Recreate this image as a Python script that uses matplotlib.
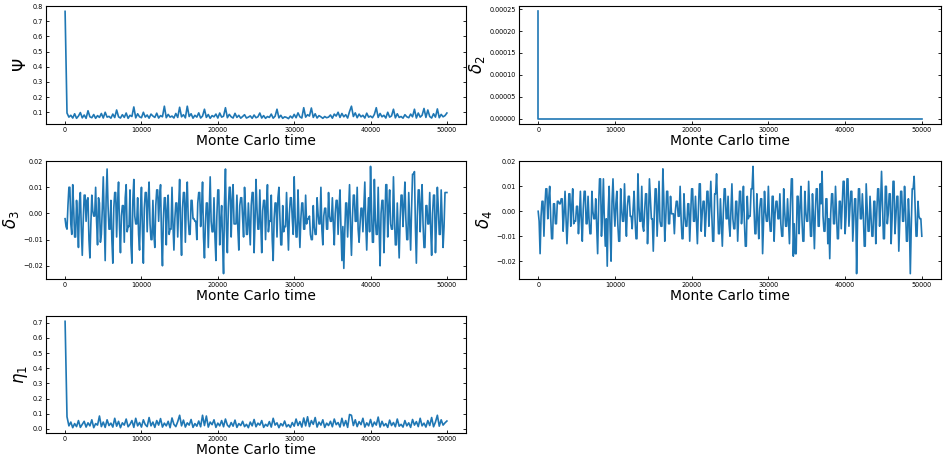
import numpy as np
import matplotlib.pyplot as plt

# Monte Carlo time grids: coarse for psi/eta1/delta2, fine for delta3/delta4
mc_time = np.arange(0, 50001, 250)
mc_time_fine = np.arange(0, 50001, 125)

# parameter traces, values in units of 1e-3 (delta2 in 1e-5)
psi_e3 = [
    765, 95, 68, 80, 62, 90, 60, 75, 98, 63, 82, 60, 110, 70, 64, 85, 60, 78, 66, 92,
    62, 100, 68, 73, 61, 88, 65, 115, 70, 62, 84, 66, 95, 60, 80, 72, 135, 63, 90, 70,
    64, 100, 68, 82, 61, 88, 75, 66, 94, 62, 78, 70, 140, 64, 86, 68, 75, 62, 92, 66,
    133, 70, 84, 63, 140, 72, 90, 61, 80, 68, 96, 62, 75, 120, 66, 85, 60, 78, 70, 88,
    62, 95, 68, 74, 130, 64, 86, 70, 62, 93, 66, 80, 61, 72, 84, 62, 68, 76, 60, 82,
    64, 70, 95, 62, 78, 60, 72, 66, 88, 61, 74, 120, 63, 80, 60, 70, 66, 58, 75, 62,
    86, 64, 96, 70, 62, 130, 68, 84, 75, 128, 66, 90, 62, 78, 70, 60, 72, 64, 68, 82,
    61, 88, 75, 100, 66, 92, 70, 84, 62, 105, 140, 72, 96, 64, 88, 70, 80, 62, 94, 68,
    75, 64, 86, 130, 66, 92, 70, 80, 62, 100, 68, 76, 120, 63, 90, 66, 72, 61, 84, 70,
    64, 88, 70, 120, 62, 95, 68, 80, 125, 66, 115, 72, 62, 90, 68, 122, 64, 86, 70, 78,
    95,
]

delta2_e5 = [24.5] + [0.0] * 200

delta3_e3 = [
    -2, -5, -6, 3, 10, 10, -4, -8, 11, 2, -9, -9, 5, -2, -13, 4, 8, -6, -16, -3,
    7, 7, -3, 5, 6, -10, -17, -4, 7, 1, -1, -1, 10, -3, -12, 6, 4, -11, -8, 2,
    14, -2, -18, 6, 17, 3, -6, -6, 5, -10, -19, 2, 8, 8, -9, 4, 12, -5, -15, -1,
    3, 3, -11, 6, 11, -7, -5, -5, 9, -12, -19, 5, 13, -1, -4, -4, 6, -8, -14, 1,
    10, -6, -19, 2, 8, 8, -7, 5, 12, -4, -10, -10, 5, -8, -13, 3, 9, 9, -3, 6,
    11, -9, -20, -2, 6, 6, -12, 1, 7, -8, -6, -6, 10, -4, -14, -2, 4, 4, -9, 3,
    13, -5, -16, 2, 8, 8, -11, 4, 12, -2, -8, -8, 5, 5, -2, -2, -3, -3, -10, 4,
    8, 8, -5, 2, 12, -9, -17, -4, 4, 4, -13, 0, 14, -3, -7, -7, 6, -9, -18, -1,
    9, 9, -12, -3, 3, -11, -23, 4, 17, -6, -15, 2, 10, 10, -9, 5, 11, -4, -4, -4,
    7, -6, -14, 3, 6, 6, -2, -9, 10, 2, -8, -8, 4, -4, -12, 3, 8, 8, -15, -3,
    13, 2, -6, -6, 9, -4, -15, 1, 5, 5, -10, 3, 11, -7, -3, -3, 7, -10, -18, -2,
    4, 4, -9, 6, 10, -1, -12, -12, 3, -7, -5, -5, 8, -3, -14, 0, 6, 6, -2, -8,
    14, -1, -9, -9, 9, -3, -13, -2, 4, 4, -6, -6, 7, -4, -2, -2, -1, -8, -10, -10,
    3, -5, -8, -8, 6, 0, -4, -4, 10, -6, -12, -1, 2, 2, -6, -6, 8, -1, -3, -3,
    6, -4, -12, 0, 5, 5, -8, 2, 9, -6, -18, -5, -21, -7, 4, 4, -9, 1, 11, -5,
    -16, -2, 7, 7, -3, -3, 10, -6, -11, -4, 2, 2, -7, 3, 12, -4, -14, -1, 6, -7,
    18, 2, -11, -11, 13, -2, -8, -8, 10, -6, -20, 0, 5, 5, -15, -3, 11, 11, -9, 2,
    9, -4, -6, -6, 14, -1, -12, -12, 4, -7, -17, -2, 7, 7, -5, 3, 12, -2, -10, -10,
    8, -3, -14, 2, 15, 15, 16, -5, -19, -1, 9, 9, -7, 3, 11, -4, -13, -13, 3, 3,
    -4, -4, 8, -6, -16, 0, 7, 7, -15, -4, 10, 2, -8, -8, 9, -2, -13, -5, 8, 8,
    8,
]

delta4_e3 = [
    0, -4, -17, -2, 4, 4, -10, 2, 9, 9, -3, 5, 10, -2, -11, -11, 3, 3, -5, -5,
    4, 4, 3, 3, 5, 5, -8, -1, 8, -3, -13, -4, 7, 7, -6, 2, 9, -5, -4, -4,
    2, 2, -9, -2, 8, -4, -12, 1, 8, 8, -5, -5, 6, -3, -9, -9, 8, 0, -3, -3,
    5, -6, -17, 2, 13, 13, -10, -1, 13, -4, -14, -3, -22, 0, 10, -7, -20, 4, 13, 1,
    -6, 3, 8, -5, -12, -12, 9, 1, -4, -4, 11, -2, -10, 2, 6, 6, -2, -2, -7, 1,
    8, -3, -11, -11, 15, 2, -4, -4, 10, -6, -8, 0, 7, 7, -13, -3, 13, 5, -3, -3,
    -16, -2, 9, 9, -10, 1, 12, -4, -6, -6, 17, 5, -12, -3, 8, 8, -5, -5, 6, -1,
    -1, -1, -9, 0, 4, 4, -2, -2, 10, -3, -11, -11, 7, -2, -6, -6, 3, 3, -12, -2,
    9, 9, -4, -4, 6, -3, -13, 0, 11, 11, -8, -1, 4, 4, -10, -2, 8, 8, -6, 2,
    12, -1, -12, -12, 7, 7, 15, 3, -9, -9, 5, -4, -14, -1, 9, 9, -3, -3, 6, -5,
    -10, 1, 11, -3, -7, -7, 4, 4, -12, -2, 8, 8, -5, 1, 10, -4, -14, -14, 6, -3,
    -2, -2, 9, 9, 18, 2, -9, -9, 7, -3, -11, 1, 5, 5, -17, -4, 8, 0, -4, -4,
    10, -2, -8, -8, 6, 6, -12, -1, 4, 4, -3, -3, 7, -5, -10, -10, 9, 0, -6, -6,
    5, -4, -13, 2, 13, 13, -18, -5, -17, -17, 6, 6, -9, 2, 10, -3, -12, -12, 8, 0,
    -4, -4, 12, 1, -10, -10, 7, -2, -15, 0, 9, 9, -6, -6, 11, 3, 16, -2, -8, -8,
    5, 5, -13, -3, -19, -1, 7, 7, -5, -5, 10, 0, -11, -11, 4, 4, -7, 2, 12, 12,
    -9, -2, 13, 13, -6, 1, 8, 8, -12, -3, 5, 5, -25, -4, 9, 9, -3, -3, 7, -1,
    -14, -14, 11, 2, -8, -8, 6, -2, -10, -10, 4, 4, -13, -1, 9, 9, -6, 3, 16, 2,
    -11, -11, 10, 10, -5, -1, 7, 7, -13, -3, 12, 12, -9, -2, 6, 6, -16, -4, 8, 8,
    -4, -4, 10, 1, -12, -12, 5, -3, -25, -6, 9, 9, 14, 2, -10, -10, 4, -2, -3, -3,
    -10,
]

eta1_e3 = [
    710, 80, 20, 45, 8, 35, 15, 55, 10, 30, 50, 12, 40, 20, 60, 8, 35, 25, 85, 15,
    45, 10, 60, 22, 38, 12, 70, 18, 50, 8, 40, 25, 65, 14, 30, 55, 10, 70, 20, 42,
    12, 60, 28, 15, 75, 20, 45, 10, 55, 25, 68, 12, 38, 20, 50, 8, 72, 30, 15, 48,
    90, 20, 58, 12, 40, 25, 62, 10, 35, 18, 52, 14, 90, 22, 85, 12, 45, 28, 60, 10,
    38, 20, 55, 14, 65, 25, 12, 42, 18, 58, 10, 35, 22, 50, 15, 30, 8, 45, 20, 62,
    14, 38, 25, 55, 10, 30, 18, 48, 12, 70, 25, 40, 8, 35, 20, 52, 14, 28, 10, 42,
    18, 65, 22, 48, 12, 72, 20, 80, 15, 55, 30, 75, 12, 45, 25, 60, 10, 38, 22, 50,
    14, 65, 28, 42, 12, 70, 20, 55, 10, 95, 90, 22, 60, 15, 48, 28, 70, 12, 40, 20,
    62, 15, 45, 25, 78, 12, 50, 20, 35, 10, 58, 22, 42, 14, 65, 18, 30, 12, 55, 20,
    40, 10, 62, 25, 48, 15, 70, 20, 38, 12, 55, 22, 75, 14, 45, 90, 18, 60, 25, 40,
    52,
]

psi = np.array(psi_e3) * 1e-3
delta2 = np.array(delta2_e5) * 1e-5
delta3 = np.array(delta3_e3) * 1e-3
delta4 = np.array(delta4_e3) * 1e-3
eta1 = np.array(eta1_e3) * 1e-3

fig = plt.figure(figsize=(9.43, 4.62), dpi=100)

# axes boxes in pixels (left, top, right, bottom)
W, H = 943, 462
boxes = {
    'psi':    (46, 6, 466, 124),
    'delta2': (519, 6, 941, 124),
    'delta3': (46, 161, 466, 279),
    'delta4': (519, 161, 941, 279),
    'eta1':   (46, 316, 466, 433),
}

# key, time grid, trace, y label, drawstyle
panels = [
    ('psi', mc_time, psi, r'$\Psi$', 'default'),
    ('delta2', mc_time, delta2, r'$\delta_2$', 'steps-pre'),
    ('delta3', mc_time_fine, delta3, r'$\delta_3$', 'default'),
    ('delta4', mc_time_fine, delta4, r'$\delta_4$', 'default'),
    ('eta1', mc_time, eta1, r'$\eta_1$', 'default'),
]

for key, t, series, label, ds in panels:
    x0, y0, x1, y1 = boxes[key]
    ax = fig.add_axes([x0 / W, 1 - y1 / H, (x1 - x0) / W, (y1 - y0) / H])
    ax.plot(t, series, color='#1f77b4', lw=1.2, drawstyle=ds)
    ax.set_xlabel('Monte Carlo time', fontsize=10, labelpad=1)
    ax.set_ylabel(label, fontsize=12, labelpad=2)
    ax.tick_params(direction='in', labelsize=4.7, length=2.5, width=0.6,
                   right=True, pad=2)
    ax.set_xticks([0, 10000, 20000, 30000, 40000, 50000])
    for s in ax.spines.values():
        s.set_linewidth(0.8)

plt.savefig('out.png', dpi=100)
